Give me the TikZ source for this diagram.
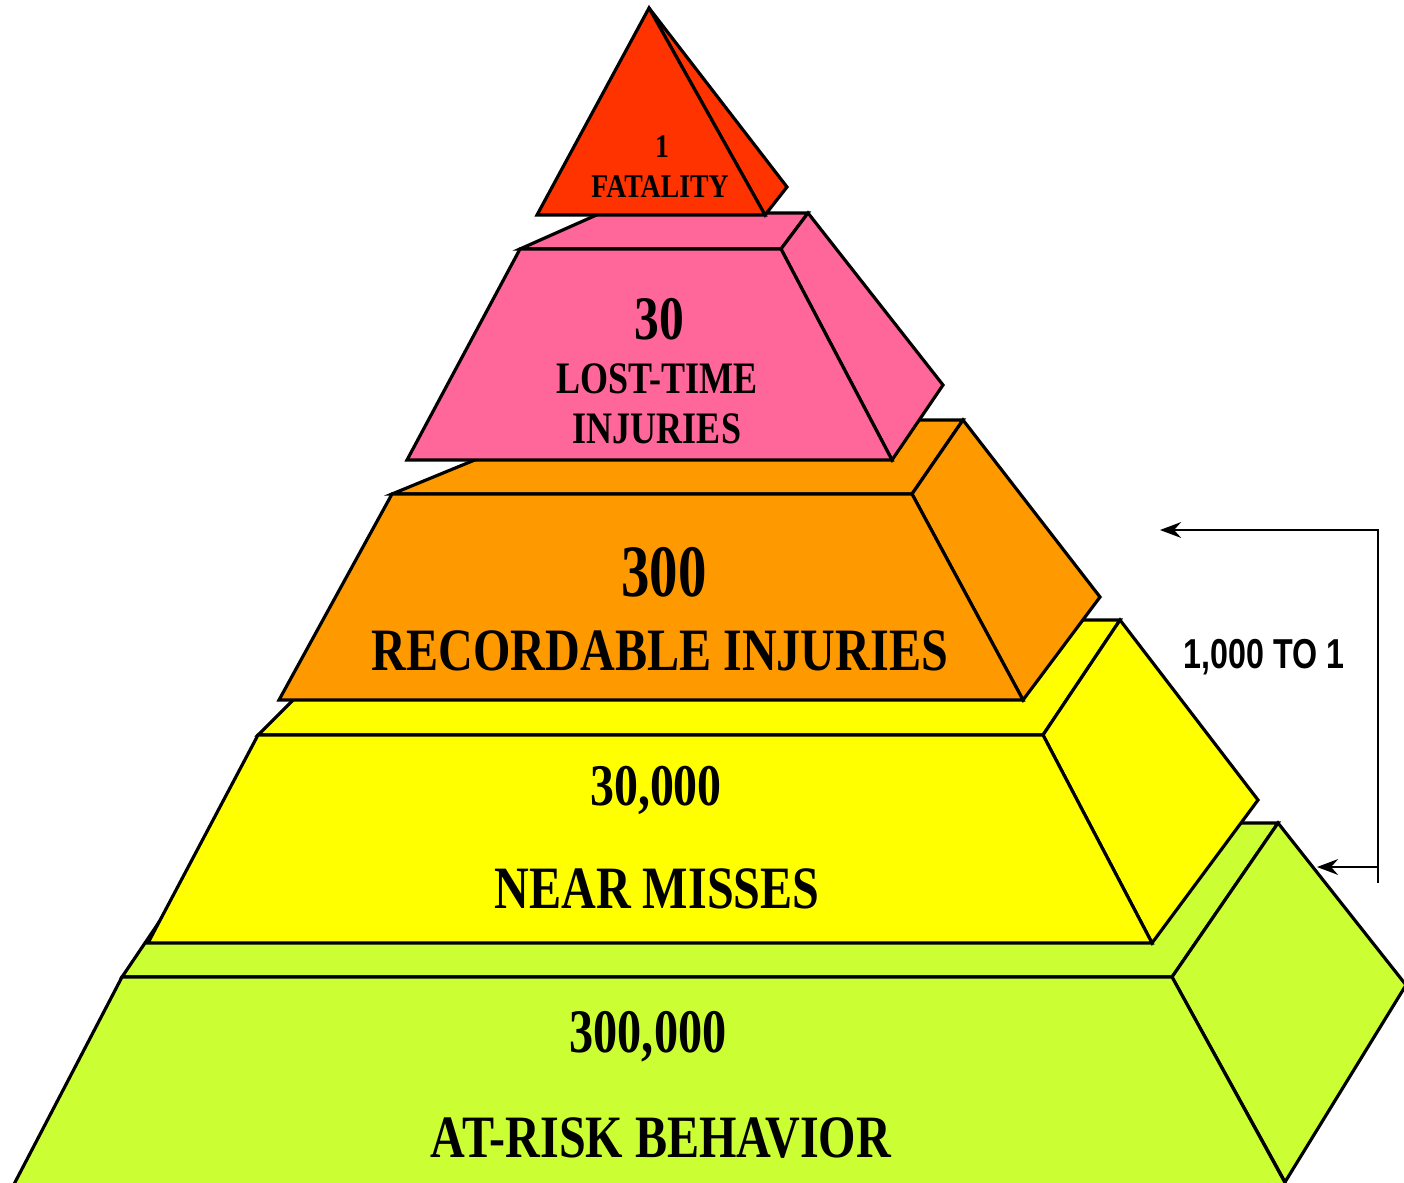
\documentclass[tikz,border=0pt]{standalone}
\usepackage{fontspec}
\setmainfont{Liberation Serif}
\newfontfamily\arialfont{Liberation Sans}
\usepackage{graphicx}
\usetikzlibrary{arrows.meta}
\definecolor{cFat}{HTML}{FF3300}
\definecolor{cPink}{HTML}{FF6699}
\definecolor{cOrange}{HTML}{FF9900}
\definecolor{cYellow}{HTML}{FFFF00}
\definecolor{cGreen}{HTML}{CCFF33}
\newcommand\tierlabel[3]{\fontsize{#1}{#1}\selectfont\bfseries\scalebox{#2}[1]{#3}}
\begin{document}
\begin{tikzpicture}[x=0.01cm,y=-0.01cm,
  face/.style={draw=black, line width=0.9pt, line join=miter},
  lbl/.style={inner sep=0pt, anchor=base},
  bracket/.style={draw=black, line width=0.5pt, -{Stealth[length=6pt,width=4.5pt,inset=2pt]}}]
\useasboundingbox (0,0) rectangle (1404,1182);
\fill[white] (0,0) rectangle (1404,1182);

% ---- green tier ----
\filldraw[face, fill=cGreen] (122,977) -- (1172,977) -- (1278,823) -- (226,823) -- cycle;
\filldraw[face, fill=cGreen] (1172,977) -- (1278,823) -- (1406,985) -- (1285,1182) -- cycle;
\filldraw[face, fill=cGreen] (122,977) -- (1172,977) -- (1289,1190) -- (11,1190) -- cycle;

% ---- yellow tier ----
\filldraw[face, fill=cYellow] (258,735) -- (1043,735) -- (1120,620) -- (373,620) -- cycle;
\filldraw[face, fill=cYellow] (1043,735) -- (1120,620) -- (1258,800) -- (1152,943) -- cycle;
\filldraw[face, fill=cYellow] (258,735) -- (1043,735) -- (1152,943) -- (148,943) -- cycle;

% ---- orange tier ----
\filldraw[face, fill=cOrange] (392,494) -- (912,494) -- (963,420) -- (572,420) -- cycle;
\filldraw[face, fill=cOrange] (912,494) -- (963,420) -- (1100,597) -- (1023,700) -- cycle;
\filldraw[face, fill=cOrange] (392,494) -- (912,494) -- (1023,700) -- (279,700) -- cycle;

% ---- pink tier ----
\filldraw[face, fill=cPink] (520,249) -- (781,249) -- (808,213) -- (601,213) -- cycle;
\filldraw[face, fill=cPink] (781,249) -- (808,213) -- (943,385) -- (892,460) -- cycle;
\filldraw[face, fill=cPink] (520,249) -- (781,249) -- (892,460) -- (407,460) -- cycle;

% ---- fatality ----
\filldraw[face, fill=cFat] (649,8) -- (787,187) -- (765,215) -- cycle;
\filldraw[face, fill=cFat] (649,8) -- (765,215) -- (537,215) -- cycle;

% ---- labels ----
\node[lbl] (l1) at (662,157) {\tierlabel{9.4pt}{0.84}{1}};
\node[lbl] (lfat) at (660,197) {\tierlabel{9.4pt}{0.84}{FATALITY}};
\node[lbl] (l30) at (659,339) {\tierlabel{17.6pt}{0.8}{30}};
\node[lbl] (llost) at (657,393) {\tierlabel{12.8pt}{0.8}{LOST-TIME}};
\node[lbl] (linj) at (657,443) {\tierlabel{12.8pt}{0.8}{INJURIES}};
\node[lbl] (l300) at (664,596) {\tierlabel{21pt}{0.77}{300}};
\node[lbl] (lrec) at (660,670) {\tierlabel{17.1pt}{0.8}{RECORDABLE INJURIES}};
\node[lbl] (l30k) at (656,805) {\tierlabel{16.8pt}{0.81}{30,000}};
\node[lbl] (lnear) at (657,908) {\tierlabel{17.1pt}{0.8}{NEAR MISSES}};
\node[lbl] (l300k) at (648,1052) {\tierlabel{17.6pt}{0.78}{300,000}};
\node[lbl] (lrisk) at (661,1157) {\tierlabel{17.1pt}{0.8}{AT-RISK BEHAVIOR}};
\node[lbl] (ratio) at (1264,668) {\arialfont\fontsize{11.9pt}{11.9pt}\selectfont\bfseries\scalebox{0.77}[1]{1,000 TO 1}};

% ---- bracket ----
\coordinate (bTop) at (1378,530);
\coordinate (bTip1) at (1160,530);
\coordinate (bEnd) at (1378,883);
\coordinate (bMid) at (1378,867);
\coordinate (bTip2) at (1317,867);
\draw[bracket] (bEnd) -- (bTop) -- (bTip1);
\draw[bracket] (bMid) -- (bTip2);
\end{tikzpicture}
\end{document}
